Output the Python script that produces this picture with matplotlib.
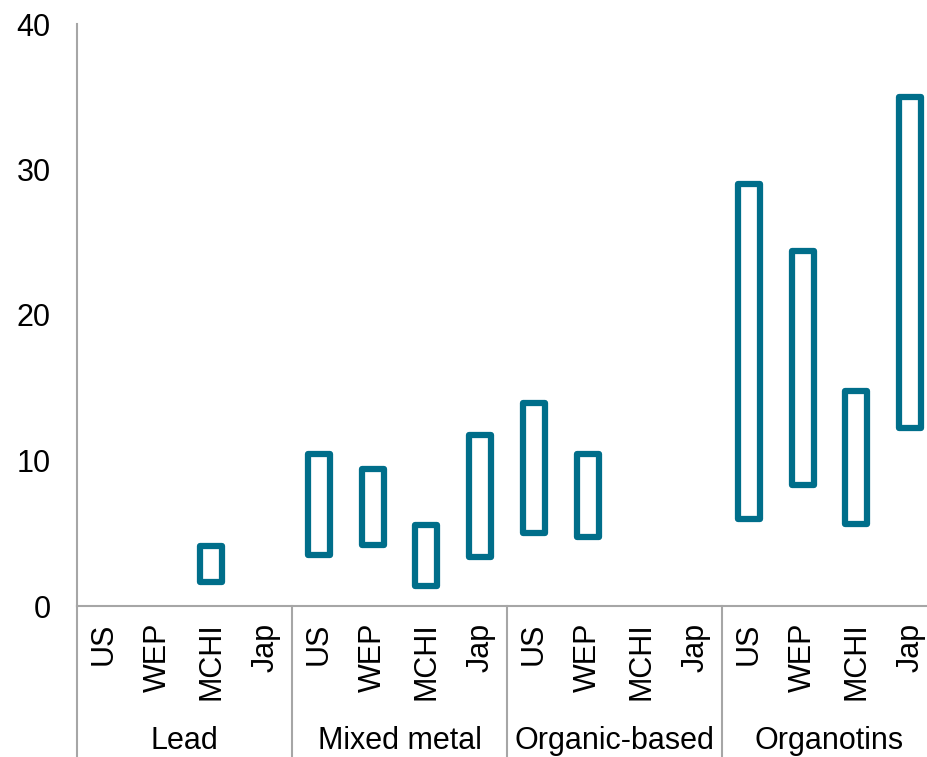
import numpy as np
import matplotlib.pyplot as plt
from matplotlib.lines import Line2D

plt.rcParams['font.family'] = ['Liberation Sans', 'DejaVu Sans']

groups = ['Lead', 'Mixed metal', 'Organic-based', 'Organotins']
regions = ['US', 'WEP', 'MCHI', 'Jap']

# low / high of each range, nan where there is no bar
low = [np.nan, np.nan, 1.65, np.nan,
       3.5, 4.2, 1.4, 3.4,
       5.0, 4.75, np.nan, np.nan,
       6.0, 8.35, 5.65, 12.2]
high = [np.nan, np.nan, 4.15, np.nan,
        10.45, 9.4, 5.6, 11.75,
        13.95, 10.45, np.nan, np.nan,
        29.0, 24.4, 14.75, 35.0]

W, H = 928, 757
fig = plt.figure(figsize=(W / 100, H / 100), dpi=100)
ax = fig.add_axes([77 / W, 1 - 606 / H, (937 - 77) / W, (606 - 24) / H])

color = '#006E8A'
grey = '#A6A6A6'
n = len(low)
x = np.arange(n)
low_a = np.array(low)
high_a = np.array(high)
ok = ~np.isnan(low_a)
ax.bar(x[ok], high_a[ok] - low_a[ok], bottom=low_a[ok], width=0.41,
       facecolor='white', edgecolor=color, linewidth=4.5, joinstyle='round')

ax.set_xlim(-0.5, n - 0.5)
ax.set_ylim(0, 40)
ax.set_yticks([0, 10, 20, 30, 40])
ax.tick_params(axis='y', length=0, labelsize=22, pad=19, colors='black')
ax.set_xticks(x)
ax.set_xticklabels(regions * len(groups), rotation=90, fontsize=22, va='top')
ax.tick_params(axis='x', length=0, pad=12)

for s in ['top', 'right']:
    ax.spines[s].set_visible(False)
for s in ['left', 'bottom']:
    ax.spines[s].set_color(grey)
    ax.spines[s].set_linewidth(1.5)

# group separators and left axis extension below the plot
y0 = 1 - 606 / H
for i in range(len(groups) + 1):
    xs = (77 + i * 4 * 53.75) / W
    if xs > 1:
        continue
    fig.add_artist(Line2D([xs, xs], [0, y0], color=grey, lw=1.5))
for i, g in enumerate(groups):
    xc = (77 + (i * 4 + 2) * 53.75) / W
    fig.text(xc, 1 - 741 / H, g, ha='center', va='center', fontsize=22)

fig.savefig('out.png', dpi=100)
